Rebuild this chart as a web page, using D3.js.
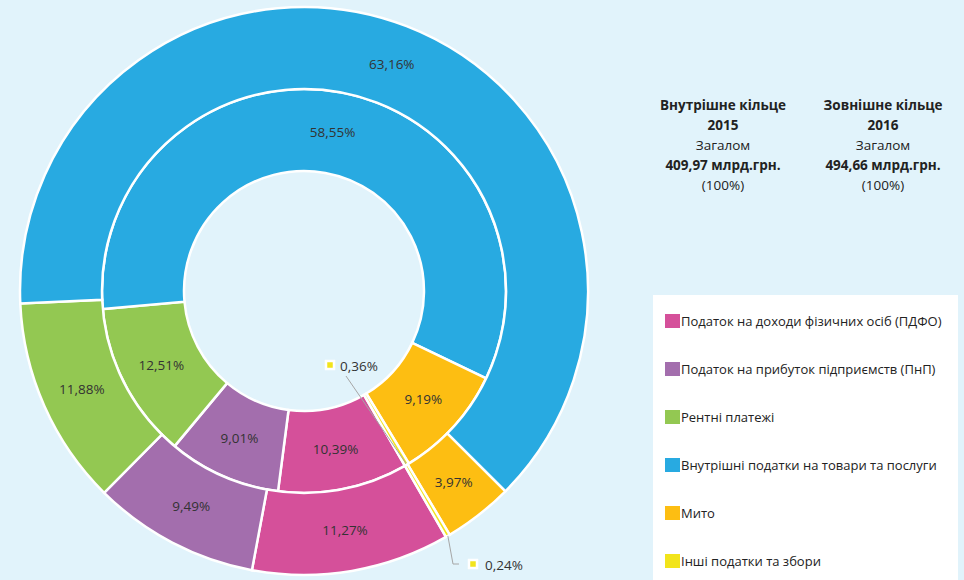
<!DOCTYPE html>
<html>
<head>
<meta charset="utf-8">
<script src="https://cdnjs.cloudflare.com/ajax/libs/d3/7.8.5/d3.min.js"></script>
<style>
    body { margin: 0; background: #e1f3fb; }
    svg { display: block; font-family: "Open Sans", sans-serif; }
</style>
</head>
<body>
<div id="plot-area"><svg></svg></div>
<script>
// data declaration
const categories = [
    'Податок на доходи фізичних осіб (ПДФО)',
    'Податок на прибуток підприємств (ПнП)',
    'Рентні платежі',
    'Внутрішні податки на товари та послуги',
    'Мито',
    'Інші податки та збори'
];

// inner ring, 2015
const share2015 = [10.39, 9.01, 12.51, 58.55, 9.19, 0.36];
// outer ring, 2016
const share2016 = [11.27, 9.49, 11.88, 63.16, 3.97, 0.24];

const labels2015 = ['10,39%', '9,01%', '12,51%', '58,55%', '9,19%', '0,36%'];
const labels2016 = ['11,27%', '9,49%', '11,88%', '63,16%', '3,97%', '0,24%'];

const headerInner = ['Внутрішне кільце', '2015', 'Загалом', '409,97 млрд.грн.', '(100%)'];
const headerOuter = ['Зовнішне кільце', '2016', 'Загалом', '494,66 млрд.грн.', '(100%)'];
const headerBold = [true, true, false, true, false];

const colours = ['#d5509a', '#a36ead', '#93c852', '#28aae1', '#fdbe12', '#f2e41b'];

function drawDoughnut() {

    const width = 964, height = 580;
    const cx = 304, cy = 291;
    const rHole = 120, rMid = 202, rOuter = 284;
    const startAngle = 150 * Math.PI / 180;

    let svg = d3.select('#plot-area').select('svg')
        .attr('width', width)
        .attr('height', height);

    svg.append('rect')
        .attr('width', width)
        .attr('height', height)
        .style('fill', '#e1f3fb');

    const pie = d3.pie()
        .sort(null)
        .value(d => d)
        .startAngle(startAngle)
        .endAngle(startAngle + 2 * Math.PI);

    const rings = [
        {values: share2015, labels: labels2015, inner: rHole, outer: rMid},
        {values: share2016, labels: labels2016, inner: rMid, outer: rOuter}
    ];

    let g = svg.append('g')
        .attr('transform', 'translate(' + cx + ',' + cy + ')');

    rings.forEach(function (ring, ri) {
        const arc = d3.arc().innerRadius(ring.inner).outerRadius(ring.outer);
        const arcs = pie(ring.values);

        g.append('g')
            .selectAll('path')
            .data(arcs)
            .enter().append('path')
            .attr('d', arc)
            .style('fill', (d, i) => colours[i])
            .style('stroke', '#fff')
            .style('stroke-width', 2.5);

        // labels in the big slices
        g.append('g')
            .selectAll('text')
            .data(arcs.filter(d => d.data > 1))
            .enter().append('text')
            .attr('transform', d => 'translate(' + arc.centroid(d) + ')')
            .attr('dy', '0.35em')
            .attr('text-anchor', 'middle')
            .attr('font-size', '13.5px')
            .style('fill', '#333')
            .text(d => ring.labels[d.index]);

        // the tiny slice gets an outside label with a leader line
        const small = arcs[arcs.length - 1];
        const mid = (small.startAngle + small.endAngle) / 2;
        const edge = [Math.sin(mid) * ring.outer, -Math.cos(mid) * ring.outer];
        const lab = ri === 0 ? [22, 75] : [150, 274];
        let leader = ri === 0
            ? [[lab[0] + 20, lab[1] + 10], edge]
            : [edge, [lab[0] - 1, lab[1] - 1], [lab[0] + 5, lab[1] - 1]];
        g.append('path')
            .attr('d', d3.line()(leader))
            .style('fill', 'none')
            .style('stroke', '#a6a6a6')
            .style('stroke-width', 1);

        g.append('rect')
            .attr('x', lab[0] + (ri === 0 ? 0 : 15))
            .attr('y', lab[1] - 5)
            .attr('width', 8)
            .attr('height', 8)
            .style('fill', colours[5])
            .style('stroke', '#fff')
            .style('stroke-width', 2.5);

        g.append('text')
            .attr('x', lab[0] + (ri === 0 ? 14 : 31))
            .attr('y', lab[1])
            .attr('dy', '0.35em')
            .attr('font-size', '13.5px')
            .style('fill', '#333')
            .text(ring.labels[5]);
    });

    // header texts
    [[headerInner, 723], [headerOuter, 883]].forEach(function (h) {
        svg.append('g')
            .selectAll('text')
            .data(h[0])
            .enter().append('text')
            .attr('x', h[1])
            .attr('y', (d, i) => 110 + i * 20)
            .attr('text-anchor', 'middle')
            .attr('font-size', '13.5px')
            .attr('font-weight', (d, i) => headerBold[i] ? 'bold' : 'normal')
            .style('fill', '#222')
            .text(d => d);
    });

    // legend
    svg.append('rect')
        .attr('x', 653)
        .attr('y', 295)
        .attr('width', 305)
        .attr('height', 300)
        .style('fill', '#fff');

    let legend = svg.selectAll('.legend')
        .data(categories)
        .enter().append('g')
        .attr('class', 'legend')
        .attr('transform', (d, i) => 'translate(665,' + (321 + i * 48) + ')');

    legend.append('rect')
        .attr('x', 0)
        .attr('y', -7)
        .attr('width', 15)
        .attr('height', 14)
        .style('fill', (d, i) => colours[i]);

    legend.append('text')
        .attr('x', 16)
        .attr('dy', '0.35em')
        .attr('font-size', '13px')
        .style('fill', '#222')
        .text(d => d);
}

drawDoughnut();
</script>
</body>
</html>
